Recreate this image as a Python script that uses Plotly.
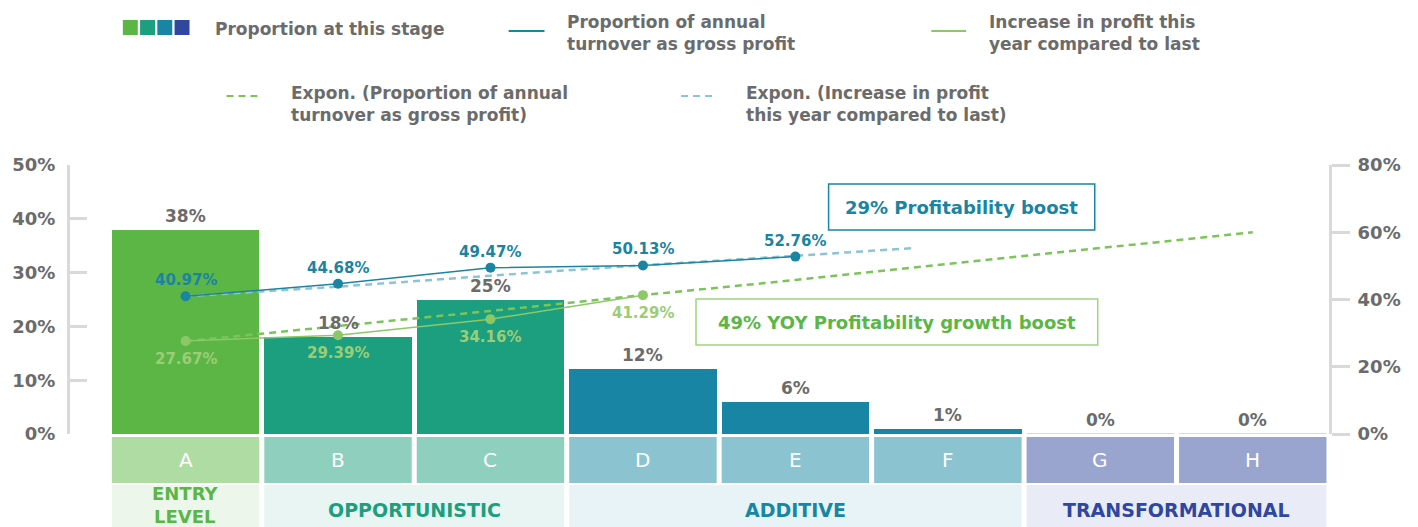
import plotly.graph_objects as go

# ---------------- data ----------------
categories = ["A", "B", "C", "D", "E", "F", "G", "H"]
stage_share = [38, 18, 25, 12, 6, 1, 0, 0]  # Proportion at this stage (left axis, %)

gross_profit_share = [40.97, 44.68, 49.47, 50.13, 52.76]  # A..E (right axis, %)
profit_increase = [27.67, 29.39, 34.16, 41.29]            # A..D (right axis, %)

# exponential trendlines (right axis, %)
trend_gross_x = [0, 1, 2, 3, 4, 4.78]
trend_gross = [41.0, 43.8, 47.1, 50.2, 53.0, 55.3]
trend_increase_x = [0, 1, 2, 3, 4, 5, 6, 7]
trend_increase = [27.6, 32.0, 36.6, 41.3, 45.8, 50.6, 55.3, 60.0]

stage_names = ["ENTRY<br>LEVEL", "OPPORTUNISTIC", "ADDITIVE", "TRANSFORMATIONAL"]
stage_first = [0, 1, 3, 6]
stage_last = [0, 2, 5, 7]

left_ticks = [0, 10, 20, 30, 40, 50]
right_ticks = [0, 20, 40, 60, 80]

box_texts = ["29% Profitability boost", "49% YOY Profitability growth boost"]

# ---------------- styles ----------------
W, H = 1418, 527
ML, MR, MT, MB = 66, 89, 165, 93
PW, PH = W - ML - MR, H - MT - MB

GRAY = "#6b6b6b"
AXIS = "#d9d9d9"
BLUE = "#1a84a3"
GREEN_L = "#8cc866"
GREEN_LBL = "#9bcd77"
GREEN_D = "#7cc45a"
LBLUE_D = "#8dc4d4"
stage_bar_col = ["#5bb646", "#1c9f7e", "#1785a3", "#9aa5cf"]
stage_band_col = ["#aedca3", "#8ecfbd", "#8bc3d0", "#99a5cf"]
stage_fill_col = ["#ecf6ea", "#e8f5f2", "#e7f3f6", "#e9ecf6"]
stage_text_col = ["#5bb646", "#1c9f7e", "#1785a3", "#2f479f"]
legend_sq_col = ["#5bb646", "#1c9f7e", "#1785a3", "#2f479f"]

FONT = "DejaVu Sans"
BW = 0.967  # bar width in category units
x_pos = list(range(len(categories)))


def stage_of(i):
    for s, (a, b) in enumerate(zip(stage_first, stage_last)):
        if a <= i <= b:
            return s
    return 0


def X(px):
    return (px - ML) / PW


def Y(py):
    return (H - MB - py) / PH


fig = go.Figure()

fig.add_trace(go.Bar(
    x=x_pos, y=stage_share, width=BW,
    marker=dict(color=[stage_bar_col[stage_of(i)] for i in x_pos], line=dict(width=0)),
    yaxis="y", showlegend=False, hoverinfo="skip",
))

fig.add_trace(go.Scatter(
    x=trend_gross_x, y=trend_gross, yaxis="y2", mode="lines",
    line=dict(color=LBLUE_D, width=2.5, dash="7px,5px"), showlegend=False, hoverinfo="skip",
))
fig.add_trace(go.Scatter(
    x=trend_increase_x, y=trend_increase, yaxis="y2", mode="lines",
    line=dict(color=GREEN_D, width=2.5, dash="7px,5px"), showlegend=False, hoverinfo="skip",
))
fig.add_trace(go.Scatter(
    x=x_pos[:len(profit_increase)], y=profit_increase, yaxis="y2", mode="lines+markers",
    line=dict(color=GREEN_L, width=1.5), marker=dict(color=GREEN_L, size=10),
    showlegend=False, hoverinfo="skip",
))
fig.add_trace(go.Scatter(
    x=x_pos[:len(gross_profit_share)], y=gross_profit_share, yaxis="y2", mode="lines+markers",
    line=dict(color=BLUE, width=1.5), marker=dict(color=BLUE, size=10),
    showlegend=False, hoverinfo="skip",
))

annotations = []
shapes = []

# bar value labels
for i, v in zip(x_pos, stage_share):
    annotations.append(dict(x=i, y=v, xref="x", yref="y", text=f"{v}%", showarrow=False,
                            xanchor="center", yanchor="middle", yshift=14,
                            font=dict(family=FONT, size=17, color=GRAY, weight="bold")))
    if v == 0:
        shapes.append(dict(type="line", xref="x", yref="y", x0=i - BW / 2, x1=i + BW / 2,
                           y0=v, y1=v, line=dict(color="#c5cbe5", width=1.5)))

# line labels
for i, v in zip(x_pos, gross_profit_share):
    annotations.append(dict(x=i, y=v, xref="x", yref="y2", text=f"{v:.2f}%", showarrow=False,
                            xanchor="center", yanchor="middle", yshift=16,
                            font=dict(family=FONT, size=15, color=BLUE, weight="bold")))
for i, v in zip(x_pos, profit_increase):
    annotations.append(dict(x=i, y=v, xref="x", yref="y2", text=f"{v:.2f}%", showarrow=False,
                            xanchor="center", yanchor="middle", yshift=-18,
                            font=dict(family=FONT, size=15, color=GREEN_LBL, weight="bold")))

# category letter bands
for i, c in zip(x_pos, categories):
    s = stage_of(i)
    shapes.append(dict(type="rect", xref="x", yref="paper", x0=i - BW / 2, x1=i + BW / 2,
                       y0=Y(483), y1=Y(437), fillcolor=stage_band_col[s], line=dict(width=0),
                       layer="above"))
    annotations.append(dict(x=i, y=Y(460), xref="x", yref="paper", text=c, showarrow=False,
                            xanchor="center", yanchor="middle",
                            font=dict(family=FONT, size=20, color="white")))

# stage bands
for s, name in enumerate(stage_names):
    a, b = stage_first[s], stage_last[s]
    shapes.append(dict(type="rect", xref="x", yref="paper", x0=a - BW / 2, x1=b + BW / 2,
                       y0=Y(545), y1=Y(485), fillcolor=stage_fill_col[s], line=dict(width=0),
                       layer="above"))
    two_line = "<br>" in name
    annotations.append(dict(x=(a + b) / 2, y=Y(505 if two_line else 510), xref="x", yref="paper",
                            text=name, showarrow=False, xanchor="center", yanchor="middle",
                            font=dict(family=FONT, size=18 if two_line else 19,
                                      color=stage_text_col[s], weight="bold")))

# highlight boxes
shapes.append(dict(type="rect", xref="paper", yref="paper", x0=X(827), x1=X(1094), y0=Y(230), y1=Y(184),
                   line=dict(color=BLUE, width=1.5), fillcolor="rgba(255,255,255,0)"))
annotations.append(dict(x=X(960.5), y=Y(207), xref="paper", yref="paper", text=box_texts[0],
                        showarrow=False, xanchor="center", yanchor="middle",
                        font=dict(family=FONT, size=18, color=BLUE, weight="bold")))
shapes.append(dict(type="rect", xref="paper", yref="paper", x0=X(694), x1=X(1097), y0=Y(345), y1=Y(299),
                   line=dict(color="#9ed47f", width=1.5), fillcolor="rgba(255,255,255,0)"))
annotations.append(dict(x=X(895.5), y=Y(322), xref="paper", yref="paper", text=box_texts[1],
                        showarrow=False, xanchor="center", yanchor="middle",
                        font=dict(family=FONT, size=18, color="#5bb646", weight="bold")))

# ---------------- custom legend ----------------
LF = dict(family=FONT, size=17, color=GRAY, weight="bold")
for k, col in enumerate(legend_sq_col):
    x0 = 119 + k * 17.3
    shapes.append(dict(type="rect", xref="paper", yref="paper", x0=X(x0), x1=X(x0 + 15),
                       y0=Y(35), y1=Y(20), fillcolor=col, line=dict(width=0)))
legend_items = [
    ("Proportion at this stage", 211, 29, None),
    ("Proportion of annual<br>turnover as gross profit", 565, 33, (506, 542, 31, BLUE, "solid")),
    ("Increase in profit this<br>year compared to last", 988, 33, (930, 965, 31, GREEN_L, "solid")),
    ("Expon. (Proportion of annual<br>turnover as gross profit)", 288, 104, (223, 254, 96, GREEN_D, "7px,5px")),
    ("Expon. (Increase in profit<br>this year compared to last)", 744, 104, (679, 711, 96, LBLUE_D, "7px,5px")),
]
for text, tx, ty, ln in legend_items:
    annotations.append(dict(x=X(tx - 2), y=Y(ty), xref="paper", yref="paper", text=text, showarrow=False,
                            xanchor="left", yanchor="middle", align="left", font=LF))
    if ln:
        x0, x1, ly, col, dash = ln
        shapes.append(dict(type="line", xref="paper", yref="paper", x0=X(x0), x1=X(x1), y0=Y(ly), y1=Y(ly),
                           line=dict(color=col, width=2, dash=dash)))

tickfont = dict(family=FONT, size=18, color=GRAY, weight="bold")
fig.update_layout(
    width=W, height=H, autosize=False,
    margin=dict(l=ML, r=MR, t=MT, b=MB, pad=0),
    paper_bgcolor="white", plot_bgcolor="white",
    showlegend=False,
    bargap=0,
    xaxis=dict(range=[-0.758, 7.5], showgrid=False, zeroline=False, showline=False,
               showticklabels=False, ticks="", fixedrange=True),
    yaxis=dict(range=[0, 50], tickvals=left_ticks, ticktext=[f"{v}%" for v in left_ticks],
               showgrid=False, zeroline=False, showline=True, linecolor=AXIS, linewidth=3,
               ticks="inside", ticklen=17, tickwidth=3, tickcolor=AXIS, tickfont=tickfont,
               ticklabelstandoff=8),
    yaxis2=dict(range=[0, 80], tickvals=right_ticks, ticktext=[f"{v}%" for v in right_ticks],
                overlaying="y", side="right", showgrid=False, zeroline=False, showline=True,
                linecolor=AXIS, linewidth=3, ticks="outside", ticklen=18, tickwidth=3, tickcolor=AXIS,
                tickfont=tickfont, ticklabelstandoff=4),
    shapes=shapes,
    annotations=annotations,
)

fig.write_html("out.html", config={"displayModeBar": False},
               post_script="document.body.style.margin='0';")
